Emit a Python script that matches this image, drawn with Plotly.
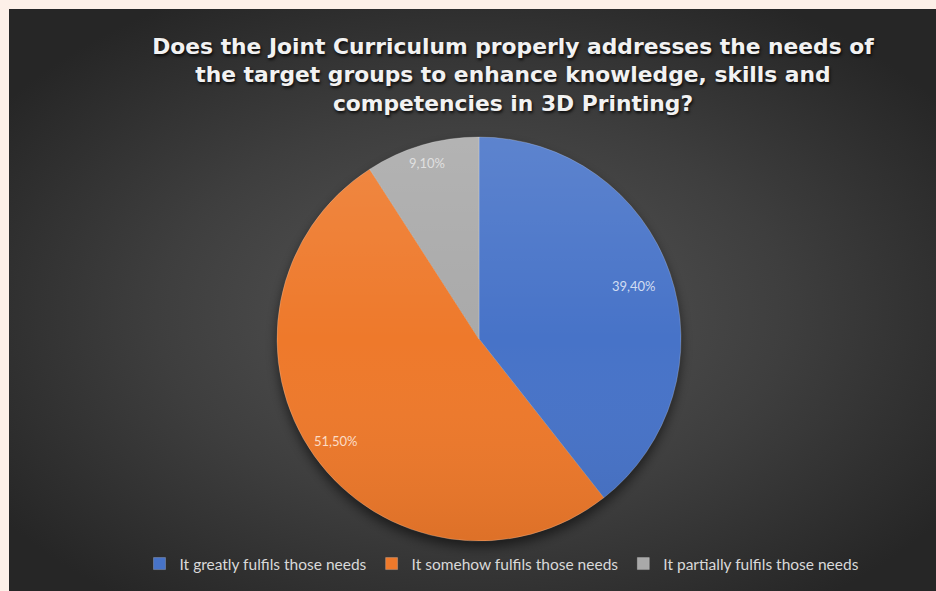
import base64
import math
import plotly.graph_objects as go

# ---- data ----
categories = [
    "It greatly fulfils those needs",
    "It somehow fulfils those needs",
    "It partially fulfils those needs",
]
percentages = [39.4, 51.5, 9.1]
label_texts = ["39,40%", "51,50%", "9,10%"]
title_lines = [
    "Does the Joint Curriculum properly addresses the needs of",
    "the target groups to enhance knowledge, skills and",
    "competencies in 3D Printing?",
]

# ---- styles / geometry ----
W, H = 936, 591
colors = ["#4773C8", "#EE792B", "#A9A9A9"]
label_colors = ["rgba(235,240,250,0.85)", "rgba(255,240,228,0.85)", "rgba(240,240,240,0.75)"]
label_r = [0.81, 0.87, 0.91]
cx, cy, R = 479, 339, 202
panel_x0, panel_y0 = 9, 9
pw, ph = W - panel_x0, H - panel_y0


def uri(svg):
    return "data:image/svg+xml;base64," + base64.b64encode(svg.encode()).decode()


bg_svg = f'''<svg xmlns="http://www.w3.org/2000/svg" width="{pw}" height="{ph}" viewBox="0 0 {pw} {ph}">
<defs>
<radialGradient id="g" cx="50%" cy="52%" r="62%">
<stop offset="0" stop-color="#575757"/><stop offset="0.55" stop-color="#3e3e3e"/><stop offset="1" stop-color="#262626"/>
</radialGradient>
<filter id="b" x="-20%" y="-20%" width="140%" height="140%"><feGaussianBlur stdDeviation="6"/></filter>
</defs>
<rect width="{pw}" height="{ph}" fill="url(#g)"/>
<circle cx="{cx - panel_x0}" cy="{cy - panel_y0 + 6}" r="{R}" fill="rgba(0,0,0,0.55)" filter="url(#b)"/>
</svg>'''

shade_svg = f'''<svg xmlns="http://www.w3.org/2000/svg" width="{2*R}" height="{2*R}" viewBox="0 0 {2*R} {2*R}">
<defs><linearGradient id="s" x1="0" y1="0" x2="0" y2="1">
<stop offset="0" stop-color="#ffffff" stop-opacity="0.12"/>
<stop offset="0.5" stop-color="#ffffff" stop-opacity="0"/>
<stop offset="1" stop-color="#000000" stop-opacity="0.07"/>
</linearGradient></defs>
<circle cx="{R}" cy="{R}" r="{R}" fill="url(#s)"/>
</svg>'''

fig = go.Figure(
    go.Pie(
        labels=categories,
        values=percentages,
        sort=False,
        direction="clockwise",
        rotation=0,
        marker=dict(colors=colors, line=dict(color="rgba(255,255,255,0.35)", width=0.6)),
        textinfo="none",
        hoverinfo="label+percent",
        domain=dict(x=[(cx - R) / W, (cx + R) / W], y=[1 - (cy + R) / H, 1 - (cy - R) / H]),
        showlegend=True,
    )
)

# data labels placed from the slice mid-angles
annotations = []
total = sum(percentages)
cum = 0.0
for v, t, rf, c in zip(percentages, label_texts, label_r, label_colors):
    mid = (cum + v / 2) / total * 2 * math.pi
    cum += v
    px = cx + rf * R * math.sin(mid)
    py = cy - rf * R * math.cos(mid)
    annotations.append(dict(
        x=px / W, y=1 - py / H, xref="paper", yref="paper", text=t, showarrow=False,
        font=dict(family="Lato, Open Sans, sans-serif", size=13, color=c),
        xanchor="center", yanchor="middle",
    ))

fig.update_layout(
    width=W, height=H,
    margin=dict(l=0, r=0, t=0, b=0),
    paper_bgcolor="#FDF0E8",
    plot_bgcolor="rgba(0,0,0,0)",
    title=dict(
        text="<br>".join(title_lines),
        x=513 / W, xanchor="center",
        y=1 - 54 / H, yanchor="middle",
        font=dict(family="DejaVu Sans, sans-serif", size=21.8, color="#F2F2F2", weight="bold",
                  shadow="1px 2px 3px rgba(0,0,0,0.8)"),
    ),
    legend=dict(
        orientation="h", x=502 / W, xanchor="center", y=1 - 564 / H, yanchor="middle",
        font=dict(family="Lato, sans-serif", size=15.5, color="#D9D9D9"),
        bgcolor="rgba(0,0,0,0)", itemclick=False, itemdoubleclick=False,
        tracegroupgap=0,
    ),
    annotations=annotations,
    images=[
        dict(source=uri(bg_svg), xref="paper", yref="paper",
             x=panel_x0 / W, y=1 - panel_y0 / H, sizex=pw / W, sizey=ph / H,
             xanchor="left", yanchor="top", sizing="stretch", layer="below"),
        dict(source=uri(shade_svg), xref="paper", yref="paper",
             x=(cx - R) / W, y=1 - (cy - R) / H, sizex=2 * R / W, sizey=2 * R / H,
             xanchor="left", yanchor="top", sizing="stretch", layer="above"),
    ],
)

fig.write_html("out.html")
